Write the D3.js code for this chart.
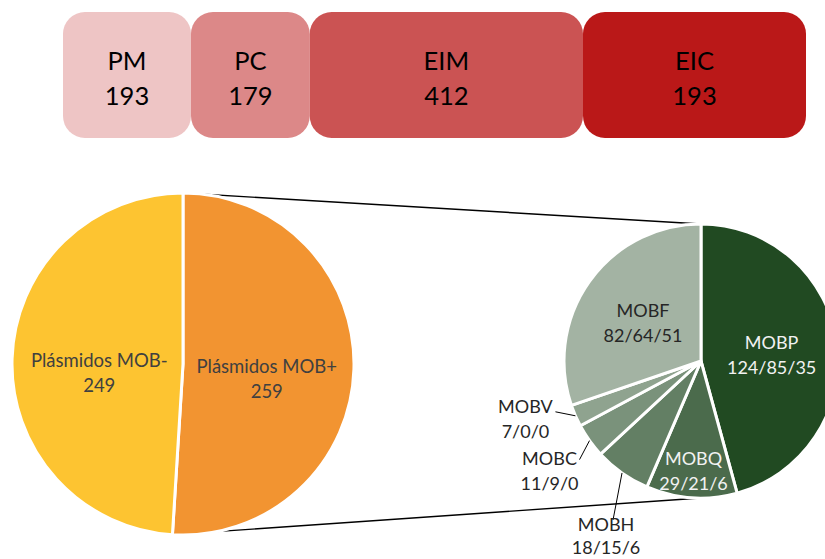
<!DOCTYPE html>
<html>
<head>
<meta charset="utf-8">
<script src="https://cdn.jsdelivr.net/npm/d3@7"></script>
<style>
  html, body { margin: 0; padding: 0; background: #fff; }
  svg { display: block; font-family: Lato, "Open Sans", sans-serif; }
</style>
</head>
<body>
<svg id="chart" width="825" height="559"></svg>
<script>
// top boxes
var boxNames = ["PM", "PC", "EIM", "EIC"];
var boxCounts = [193, 179, 412, 193];
var boxColors = ["#eec5c5", "#dc8888", "#cb5353", "#ba1818"];

// left pie
var mobNames = ["Plásmidos MOB+", "Plásmidos MOB-"];
var mobCounts = [259, 249];
var mobColors = ["#f29431", "#fdc431"];

// right pie (MOB families)
var famNames = ["MOBP", "MOBQ", "MOBH", "MOBC", "MOBV", "MOBF"];
var famCounts = [124, 29, 18, 11, 7, 82];
var famLabels = ["124/85/35", "29/21/6", "18/15/6", "11/9/0", "7/0/0", "82/64/51"];
var famColors = ["#214a22", "#4b6b4c", "#637f64", "#7a927b", "#8fa38f", "#a3b3a3"];

var svg = d3.select("#chart");

// ---- boxes: first three sized by count, last one fills to the right edge
var boxLeft = 63, boxRight = 806, boxTop = 12, boxH = 126;
var cum = [0];
boxCounts.forEach(function (v, i) { cum.push(cum[i] + v); });
var scBox = d3.scaleLinear().domain([0, cum[3]]).range([boxLeft, 583]);

var boxes = svg.append("g").attr("id", "boxes")
  .selectAll("g").data(boxNames).enter().append("g");

boxes.append("rect")
  .attr("x", (d, i) => scBox(cum[i]))
  .attr("width", (d, i) => (i === 3 ? boxRight : scBox(cum[i + 1])) - scBox(cum[i]))
  .attr("y", boxTop).attr("height", boxH)
  .attr("rx", 22).attr("ry", 22)
  .attr("fill", (d, i) => boxColors[i]);

var boxMid = (i) => ((i === 3 ? boxRight : scBox(cum[i + 1])) + scBox(cum[i])) / 2;
boxes.append("text")
  .attr("x", (d, i) => boxMid(i)).attr("y", 70)
  .attr("text-anchor", "middle").attr("font-size", 25.5).attr("fill", "#000")
  .text(d => d);
boxes.append("text")
  .attr("x", (d, i) => boxMid(i)).attr("y", 105)
  .attr("text-anchor", "middle").attr("font-size", 25.5).attr("fill", "#000")
  .text((d, i) => boxCounts[i]);

// ---- pies
var L = { cx: 183, cy: 364, r: 171 };
var R = { cx: 701, cy: 361, r: 137 };

var pie = d3.pie().sort(null).value(d => d);
var mobArcs = pie(mobCounts);
var famArcs = pie(famCounts);

// connector lines between the two pies
var lp = a => { var p = d3.pointRadial(a, L.r); return [L.cx + p[0], L.cy + p[1]]; };
var rp = a => { var p = d3.pointRadial(a, R.r); return [R.cx + p[0], R.cy + p[1]]; };
var conn = [
  [lp(mobArcs[0].startAngle), rp(0)],
  [lp(mobArcs[0].endAngle), rp(Math.PI)]
];
svg.append("g").attr("id", "connectors")
  .selectAll("path").data(conn).enter().append("path")
  .attr("d", d => d3.line()(d))
  .attr("stroke", "#000").attr("stroke-width", 1.4).attr("fill", "none");

var arcL = d3.arc().innerRadius(0).outerRadius(L.r);
var gL = svg.append("g").attr("transform", "translate(" + L.cx + "," + L.cy + ")");
gL.selectAll("path").data(mobArcs).enter().append("path")
  .attr("d", arcL)
  .attr("fill", (d, i) => mobColors[i])
  .attr("stroke", "#fff").attr("stroke-width", 3);

var lblL = d3.arc().innerRadius(L.r * 0.49).outerRadius(L.r * 0.49);
var tL = gL.selectAll("text").data(mobArcs).enter().append("text")
  .attr("text-anchor", "middle").attr("font-size", 18.5).attr("fill", "#404040")
  .attr("transform", d => { var c = lblL.centroid(d); return "translate(" + c[0] + "," + (c[1] + 6) + ")"; });
tL.append("tspan").attr("x", 0).attr("y", 0).text((d, i) => mobNames[i]);
tL.append("tspan").attr("x", 0).attr("y", 25).text((d, i) => mobCounts[i]);

var arcR = d3.arc().innerRadius(0).outerRadius(R.r);
var gR = svg.append("g").attr("transform", "translate(" + R.cx + "," + R.cy + ")");
gR.selectAll("path").data(famArcs).enter().append("path")
  .attr("d", arcR)
  .attr("fill", (d, i) => famColors[i])
  .attr("stroke", "#fff").attr("stroke-width", 3);

// label placement per family: inside at a radius fraction, or outside with a leader
var inside = { MOBP: [0.52, "#f2f2f2"], MOBQ: [0.78, "#f2f2f2"], MOBF: [0.52, "#262626"] };
var leader = { MOBV: [-20, -4, -30, 1], MOBC: [-10, 19, -30, 5], MOBH: [-9, 47, -7, 11] };

famArcs.forEach(function (d, i) {
  var name = famNames[i];
  var t;
  if (inside[name]) {
    var c = d3.arc().innerRadius(R.r * inside[name][0]).outerRadius(R.r * inside[name][0]).centroid(d);
    t = gR.append("text").attr("text-anchor", "middle").attr("font-size", 18)
      .attr("fill", inside[name][1])
      .attr("transform", "translate(" + c[0] + "," + (c[1] - 3) + ")");
  } else {
    var e = d3.pointRadial((d.startAngle + d.endAngle) / 2, R.r);
    var o = leader[name];
    var end = [e[0] + o[0], e[1] + o[1]];
    gR.append("line")
      .attr("x1", e[0]).attr("y1", e[1]).attr("x2", end[0]).attr("y2", end[1])
      .attr("stroke", "#000").attr("stroke-width", 1);
    t = gR.append("text").attr("text-anchor", "middle").attr("font-size", 18)
      .attr("fill", "#262626")
      .attr("transform", "translate(" + (end[0] + o[2]) + "," + (end[1] + o[3]) + ")");
  }
  t.append("tspan").attr("x", 0).attr("y", 0).text(name);
  t.append("tspan").attr("x", 0).attr("y", name === "MOBH" ? 23 : 25).text(famLabels[i]);
});
</script>
</body>
</html>
